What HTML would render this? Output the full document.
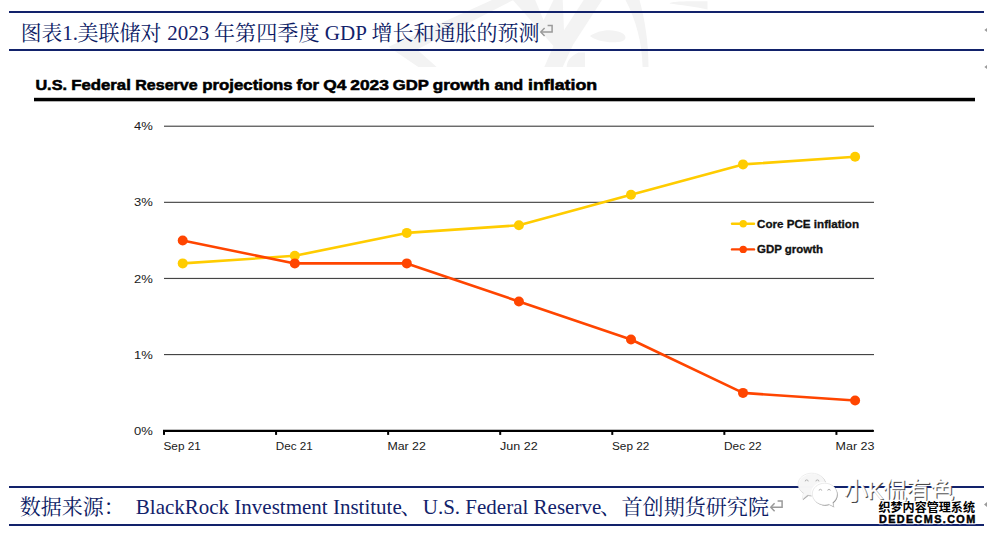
<!DOCTYPE html>
<html lang="zh"><head><meta charset="utf-8"><title>图表1</title>
<style>
html,body{margin:0;padding:0;background:#fff;overflow:hidden}
svg{display:block}
</style></head>
<body>
<svg width="987" height="534" viewBox="0 0 987 534">
<rect width="987" height="534" fill="#fff"/>
<g fill="#f3f3f3">
<polygon points="492,0 513.3,0 417,49.6 436.7,67 418.3,67 388.5,46.8"/>
<polygon points="512.9,0 535.2,0 543.6,20.2 553.5,0 562.7,0 564,30.2 583.7,0 602,0 573.2,44.6 562.7,67 544.3,67 553.5,45.9"/>
<path d="M566.6,67 C567,62 569,57 578.4,52.5 L585,52.5 L585,67Z"/>
<path d="M590,36 C598,30 612,28 622,33 C628,36 626,42 618,42 C608,43 596,41 590,36Z"/>
<path d="M625.5,0 L639.5,0 C645,20 648.5,42 648.5,67 L642.6,67 C642,42 636,20 625.5,0Z"/>
<path d="M669.5,3.5 C672,1.5 680,1.3 707.5,1.3 L707.5,9.5 C695,6.5 680,5 669.5,3.5Z"/>
</g>
<rect x="9" y="11" width="975" height="2" fill="#12226b"/>
<rect x="9" y="49" width="975" height="2" fill="#12226b"/>
<text x="20.8" y="40" font-family="'Liberation Serif', 'Noto Serif CJK SC', serif" font-size="21" fill="#0b1a64" textLength="41.5" lengthAdjust="spacingAndGlyphs">图表</text>
<text x="77.5" y="40" font-family="'Liberation Serif', 'Noto Serif CJK SC', serif" font-size="21" fill="#0b1a64" textLength="84" lengthAdjust="spacingAndGlyphs">美联储对</text>
<text x="214" y="40" font-family="'Liberation Serif', 'Noto Serif CJK SC', serif" font-size="21" fill="#0b1a64" textLength="105.5" lengthAdjust="spacingAndGlyphs">年第四季度</text>
<text x="371.5" y="40" font-family="'Liberation Serif', 'Noto Serif CJK SC', serif" font-size="21" fill="#0b1a64" textLength="168" lengthAdjust="spacingAndGlyphs">增长和通胀的预测</text>
<text x="62.30" y="40" font-family="Liberation Serif, serif" font-size="21" fill="#12226b" xml:space="preserve">1.</text>
<text x="162.05" y="40" font-family="Liberation Serif, serif" font-size="21" fill="#12226b" xml:space="preserve"> 2023 </text>
<text x="319.55" y="40" font-family="Liberation Serif, serif" font-size="21" fill="#12226b" xml:space="preserve"> GDP </text>
<g fill="none" stroke="#9a9a9a" stroke-width="1.5"><path d="M547.6,25.6 H552.1 V32 H541"/><path d="M544.6,28 L540.8,32 L544.6,36"/></g>
<rect x="9" y="486" width="975" height="2" fill="#12226b"/>
<rect x="9" y="524" width="975" height="2" fill="#12226b"/>
<text x="19.8" y="514" font-family="'Liberation Serif', 'Noto Serif CJK SC', serif" font-size="21" fill="#0b1a64">数据来源：</text>
<text x="400.5" y="514" font-family="'Liberation Serif', 'Noto Serif CJK SC', serif" font-size="21" fill="#0b1a64">、</text>
<text x="600" y="514" font-family="'Liberation Serif', 'Noto Serif CJK SC', serif" font-size="21" fill="#0b1a64">、</text>
<text x="621.5" y="514" font-family="'Liberation Serif', 'Noto Serif CJK SC', serif" font-size="21" fill="#0b1a64" textLength="147.5" lengthAdjust="spacingAndGlyphs">首创期货研究院</text>
<text x="125.30" y="514" font-family="Liberation Serif, serif" font-size="21" fill="#12226b" xml:space="preserve">  BlackRock Investment Institute</text>
<text x="422.75" y="514" font-family="Liberation Serif, serif" font-size="21" fill="#12226b" xml:space="preserve">U.S. Federal Reserve</text>
<g fill="none" stroke="#9a9a9a" stroke-width="1.5"><path d="M777.6,500.90000000000003 H782.1 V507.3 H771"/><path d="M774.6,503.3 L770.8,507.3 L774.6,511.3"/></g>
<g fill="#9a9a9a"><path d="M984.4,30 L987,28 V32Z"/><path d="M984.4,67 L987,65 V69Z"/><path d="M984,504.5 L987,502 V507Z"/></g>
<text x="35.4" y="90.2" font-family="Liberation Sans, sans-serif" font-weight="700" font-size="15.4" fill="#000" stroke="#000" stroke-width="0.55" textLength="31.6" lengthAdjust="spacingAndGlyphs">U.S.</text>
<text x="71.2" y="90.2" font-family="Liberation Sans, sans-serif" font-weight="700" font-size="15.4" fill="#000" stroke="#000" stroke-width="0.55" textLength="59.6" lengthAdjust="spacingAndGlyphs">Federal</text>
<text x="135.3" y="90.2" font-family="Liberation Sans, sans-serif" font-weight="700" font-size="15.4" fill="#000" stroke="#000" stroke-width="0.55" textLength="62.4" lengthAdjust="spacingAndGlyphs">Reserve</text>
<text x="202.3" y="90.2" font-family="Liberation Sans, sans-serif" font-weight="700" font-size="15.4" fill="#000" stroke="#000" stroke-width="0.55" textLength="90.4" lengthAdjust="spacingAndGlyphs">projections</text>
<text x="296.6" y="90.2" font-family="Liberation Sans, sans-serif" font-weight="700" font-size="15.4" fill="#000" stroke="#000" stroke-width="0.55" textLength="22.4" lengthAdjust="spacingAndGlyphs">for</text>
<text x="323.3" y="90.2" font-family="Liberation Sans, sans-serif" font-weight="700" font-size="15.4" fill="#000" stroke="#000" stroke-width="0.55" textLength="23.1" lengthAdjust="spacingAndGlyphs">Q4</text>
<text x="350.3" y="90.2" font-family="Liberation Sans, sans-serif" font-weight="700" font-size="15.4" fill="#000" stroke="#000" stroke-width="0.55" textLength="38.6" lengthAdjust="spacingAndGlyphs">2023</text>
<text x="392.8" y="90.2" font-family="Liberation Sans, sans-serif" font-weight="700" font-size="15.4" fill="#000" stroke="#000" stroke-width="0.55" textLength="36.1" lengthAdjust="spacingAndGlyphs">GDP</text>
<text x="432.7" y="90.2" font-family="Liberation Sans, sans-serif" font-weight="700" font-size="15.4" fill="#000" stroke="#000" stroke-width="0.55" textLength="57.0" lengthAdjust="spacingAndGlyphs">growth</text>
<text x="494.5" y="90.2" font-family="Liberation Sans, sans-serif" font-weight="700" font-size="15.4" fill="#000" stroke="#000" stroke-width="0.55" textLength="28.6" lengthAdjust="spacingAndGlyphs">and</text>
<text x="528.0" y="90.2" font-family="Liberation Sans, sans-serif" font-weight="700" font-size="15.4" fill="#000" stroke="#000" stroke-width="0.55" textLength="69.1" lengthAdjust="spacingAndGlyphs">inflation</text>
<rect x="34" y="97.8" width="941" height="3.5" fill="#000"/>
<rect x="164" y="354.00" width="710" height="1.15" fill="#454545"/>
<rect x="164" y="277.88" width="710" height="1.15" fill="#454545"/>
<rect x="164" y="201.76" width="710" height="1.15" fill="#454545"/>
<rect x="164" y="125.64" width="710" height="1.15" fill="#454545"/>
<rect x="163" y="429.75" width="710" height="2.25" fill="#000"/><circle cx="873" cy="430.9" r="1.1" fill="#000"/>
<rect x="163.00" y="430" width="2" height="4.9" fill="#000"/>
<rect x="275.07" y="430" width="2" height="4.9" fill="#000"/>
<rect x="387.14" y="430" width="2" height="4.9" fill="#000"/>
<rect x="499.21" y="430" width="2" height="4.9" fill="#000"/>
<rect x="611.28" y="430" width="2" height="4.9" fill="#000"/>
<rect x="723.35" y="430" width="2" height="4.9" fill="#000"/>
<rect x="835.42" y="430" width="2" height="4.9" fill="#000"/>
<text x="134.1" y="435.00" font-family="Liberation Sans, sans-serif" font-size="11.4" fill="#1a1a1a" textLength="18.8" lengthAdjust="spacingAndGlyphs">0%</text>
<text x="134.1" y="358.83" font-family="Liberation Sans, sans-serif" font-size="11.4" fill="#1a1a1a" textLength="18.8" lengthAdjust="spacingAndGlyphs">1%</text>
<text x="134.1" y="282.66" font-family="Liberation Sans, sans-serif" font-size="11.4" fill="#1a1a1a" textLength="18.8" lengthAdjust="spacingAndGlyphs">2%</text>
<text x="134.1" y="206.49" font-family="Liberation Sans, sans-serif" font-size="11.4" fill="#1a1a1a" textLength="18.8" lengthAdjust="spacingAndGlyphs">3%</text>
<text x="134.1" y="130.32" font-family="Liberation Sans, sans-serif" font-size="11.4" fill="#1a1a1a" textLength="18.8" lengthAdjust="spacingAndGlyphs">4%</text>
<text x="163.50" y="449.7" font-family="Liberation Sans, sans-serif" font-size="11.7" fill="#1a1a1a" textLength="37.4" lengthAdjust="spacingAndGlyphs">Sep 21</text>
<text x="275.80" y="449.7" font-family="Liberation Sans, sans-serif" font-size="11.7" fill="#1a1a1a" textLength="36.9" lengthAdjust="spacingAndGlyphs">Dec 21</text>
<text x="387.40" y="449.7" font-family="Liberation Sans, sans-serif" font-size="11.7" fill="#1a1a1a" textLength="38.5" lengthAdjust="spacingAndGlyphs">Mar 22</text>
<text x="500.00" y="449.7" font-family="Liberation Sans, sans-serif" font-size="11.7" fill="#1a1a1a" textLength="37.6" lengthAdjust="spacingAndGlyphs">Jun 22</text>
<text x="612.00" y="449.7" font-family="Liberation Sans, sans-serif" font-size="11.7" fill="#1a1a1a" textLength="37.3" lengthAdjust="spacingAndGlyphs">Sep 22</text>
<text x="724.00" y="449.7" font-family="Liberation Sans, sans-serif" font-size="11.7" fill="#1a1a1a" textLength="37.6" lengthAdjust="spacingAndGlyphs">Dec 22</text>
<text x="835.60" y="449.7" font-family="Liberation Sans, sans-serif" font-size="11.7" fill="#1a1a1a" textLength="38.9" lengthAdjust="spacingAndGlyphs">Mar 23</text>
<polyline points="182.7,263.4 294.8,255.8 406.8,232.9 518.9,225.3 631.0,194.8 743.0,164.4 855.1,156.7" fill="none" stroke="#ffcc00" stroke-width="2.6" stroke-linejoin="round"/><circle cx="182.7" cy="263.4" r="5" fill="#ffcc00"/><circle cx="294.8" cy="255.8" r="5" fill="#ffcc00"/><circle cx="406.8" cy="232.9" r="5" fill="#ffcc00"/><circle cx="518.9" cy="225.3" r="5" fill="#ffcc00"/><circle cx="631.0" cy="194.8" r="5" fill="#ffcc00"/><circle cx="743.0" cy="164.4" r="5" fill="#ffcc00"/><circle cx="855.1" cy="156.7" r="5" fill="#ffcc00"/>
<polyline points="182.7,240.5 294.8,263.4 406.8,263.4 518.9,301.5 631.0,339.5 743.0,392.9 855.1,400.5" fill="none" stroke="#ff4500" stroke-width="2.6" stroke-linejoin="round"/><circle cx="182.7" cy="240.5" r="5" fill="#ff4500"/><circle cx="294.8" cy="263.4" r="5" fill="#ff4500"/><circle cx="406.8" cy="263.4" r="5" fill="#ff4500"/><circle cx="518.9" cy="301.5" r="5" fill="#ff4500"/><circle cx="631.0" cy="339.5" r="5" fill="#ff4500"/><circle cx="743.0" cy="392.9" r="5" fill="#ff4500"/><circle cx="855.1" cy="400.5" r="5" fill="#ff4500"/>
<line x1="732" x2="754" y1="223.8" y2="223.8" stroke="#ffcc00" stroke-width="2.4" stroke-linecap="round"/><circle cx="743.2" cy="223.8" r="3.7" fill="#ffcc00"/><text x="757" y="227.70000000000002" font-family="Liberation Sans, sans-serif" font-weight="700" font-size="10.7" fill="#111" stroke="#111" stroke-width="0.3" textLength="102" lengthAdjust="spacingAndGlyphs">Core PCE inflation</text>
<line x1="732" x2="754" y1="249.4" y2="249.4" stroke="#ff4500" stroke-width="2.4" stroke-linecap="round"/><circle cx="743.2" cy="249.4" r="3.7" fill="#ff4500"/><text x="757" y="253.3" font-family="Liberation Sans, sans-serif" font-weight="700" font-size="10.7" fill="#111" stroke="#111" stroke-width="0.3" textLength="66" lengthAdjust="spacingAndGlyphs">GDP growth</text>
<path d="M811.8,473.2 C804.2,473.2 798,478.1 798,484.3 C798,487.9 800.1,491 803.4,493.1 L802.2,499.4 L807.6,495.1 C808.9,495.4 810.3,495.5 811.8,495.5 C819.4,495.5 825.6,490.5 825.6,484.3 C825.6,478.1 819.4,473.2 811.8,473.2Z" fill="#9c9c9c" fill-opacity="0.9" transform="translate(0.7,0.8)"/>
<path d="M811.8,473.2 C804.2,473.2 798,478.1 798,484.3 C798,487.9 800.1,491 803.4,493.1 L802.2,499.4 L807.6,495.1 C808.9,495.4 810.3,495.5 811.8,495.5 C819.4,495.5 825.6,490.5 825.6,484.3 C825.6,478.1 819.4,473.2 811.8,473.2Z" fill="#fff" fill-opacity="0.9" stroke="#dcdcdc" stroke-width="0.5"/>
<path d="M824.7,483.2 C817.8,483.2 812.3,488 812.3,494 C812.3,500 817.8,504.9 824.7,504.9 C826.1,504.9 827.5,504.7 828.7,504.3 L833.6,506.6 L832.7,502.4 C835.4,500.4 837.1,497.4 837.1,494 C837.1,488 831.6,483.2 824.7,483.2Z" fill="#fff" transform="translate(-1.1,-1.1)"/>
<path d="M824.7,483.2 C817.8,483.2 812.3,488 812.3,494 C812.3,500 817.8,504.9 824.7,504.9 C826.1,504.9 827.5,504.7 828.7,504.3 L833.6,506.6 L832.7,502.4 C835.4,500.4 837.1,497.4 837.1,494 C837.1,488 831.6,483.2 824.7,483.2Z" fill="#8e8e8e" transform="translate(0.7,0.8)"/>
<path d="M824.7,483.2 C817.8,483.2 812.3,488 812.3,494 C812.3,500 817.8,504.9 824.7,504.9 C826.1,504.9 827.5,504.7 828.7,504.3 L833.6,506.6 L832.7,502.4 C835.4,500.4 837.1,497.4 837.1,494 C837.1,488 831.6,483.2 824.7,483.2Z" fill="#fff" stroke="#d4d4d4" stroke-width="0.5"/>
<g fill="none" stroke="#a0a0a0" stroke-width="0.8"><path d="M805.2,481.4 A1.5,1.5 0 0 1 808.2,481.4"/><path d="M815.9,481.4 A1.5,1.5 0 0 1 818.9,481.4"/><path d="M819.1,490.6 A1.3,1.3 0 0 1 821.7,490.6"/><path d="M827.7,490.6 A1.3,1.3 0 0 1 830.3,490.6"/></g>
<text x="844" y="499" font-family="'Liberation Sans', 'Noto Sans CJK SC', sans-serif" font-size="24" fill="#3c3c3c" stroke="#3c3c3c" stroke-width="0.4" textLength="110" lengthAdjust="spacingAndGlyphs" transform="translate(1,1)">小K侃有色</text>
<text x="844" y="499" font-family="'Liberation Sans', 'Noto Sans CJK SC', sans-serif" font-size="24" fill="#fff" stroke="#fff" stroke-width="0.4" textLength="110" lengthAdjust="spacingAndGlyphs">小K侃有色</text>
<text x="878.5" y="511.6" font-family="'Liberation Sans', 'Noto Sans CJK SC', sans-serif" font-weight="700" font-size="12" fill="#000" stroke="#fff" stroke-width="2.4" stroke-linejoin="round" paint-order="stroke" textLength="96.5" lengthAdjust="spacingAndGlyphs">织梦内容管理系统</text>
<g transform="translate(879,523.3) scale(1.05,1)"><text x="0" y="0" font-family="Liberation Sans, sans-serif" font-weight="700" font-size="10.3" fill="#000" stroke="#fff" stroke-width="2.6" stroke-linejoin="round" textLength="91.6" lengthAdjust="spacing">DEDECMS.COM</text><text x="0" y="0" font-family="Liberation Sans, sans-serif" font-weight="700" font-size="10.3" fill="#000" stroke="#000" stroke-width="0.45" textLength="91.6" lengthAdjust="spacing">DEDECMS.COM</text></g>
</svg>
</body></html>
